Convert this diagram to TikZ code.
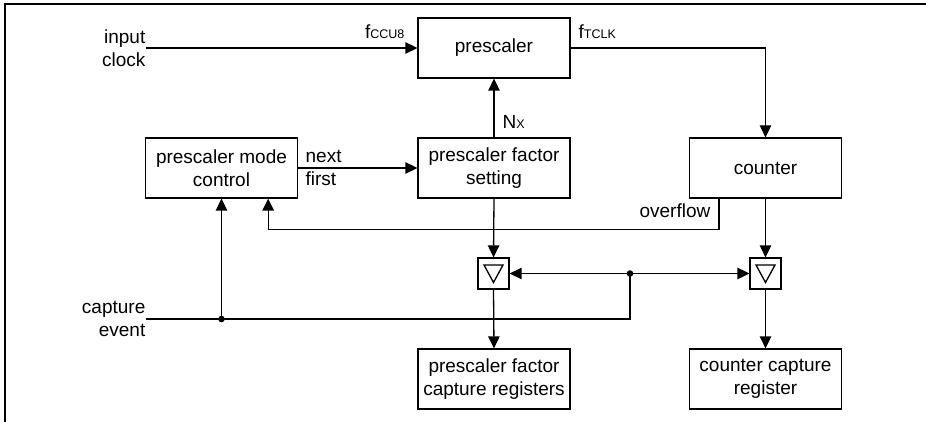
\documentclass[tikz,border=0pt]{standalone}
\usepackage{fontspec}
\setmainfont{Liberation Sans}
\usetikzlibrary{arrows.meta,calc}
\newcommand\subtxt[1]{{\fontsize{12.5}{12.5}\selectfont #1}}

\begin{document}
\begin{tikzpicture}[x=1pt,y=-1pt,line width=1.3pt,
    font=\fontsize{19}{22.7}\selectfont,
    blk/.style={draw,minimum width=152pt,minimum height=60pt,align=center,inner sep=0pt},
    capbox/.style={draw,minimum size=31pt,inner sep=0pt,
        path picture={\draw (path picture bounding box.center) ++(-9.5pt,8.5pt) -- ++(19pt,0pt) -- ++(-9.5pt,-17.5pt) -- cycle;}},
    lbl/.style={inner sep=0pt},
    arr/.style={-{Triangle[length=12pt,width=11.5pt]}}]
    \useasboundingbox (0,0) rectangle (926,422);
    % frame
    \draw[line width=1.7pt] (5,422)--(5,4)--(926,4);
    % blocks
    \node[blk] (presc) at (494,48) {prescaler};
    \node[blk] (modectl) at (221.5,168) {prescaler mode\\control};
    \node[blk] (factset) at (494,168) {prescaler factor\\setting};
    \node[blk] (counter) at (765.5,168) {counter};
    \node[capbox] (capL) at (493.5,273.5) {};
    \node[capbox] (capR) at (765.5,273.5) {};
    \node[blk] (pfcr) at (494,379) {prescaler factor\\capture registers};
    \node[blk] (ccr) at (765.5,379) {counter capture\\register};
    % inputs
    \node[lbl,anchor=east,align=right] (inclk) at (146,48) {input\\clock};
    \node[lbl,anchor=east,align=right] (capev) at (146,319) {capture\\event};
    % labels
    \node[lbl,anchor=base east] (fccu) at (405,39) {f\subtxt{CCU8}};
    \node[lbl,anchor=base west] (ftclk) at (578,39) {f\subtxt{TCLK}};
    \node[lbl,anchor=base west] (nx) at (502,129) {N\subtxt{X}};
    \node[lbl,anchor=west,align=left] (nxtfst) at (305,168) {next\\first};
    \node[lbl,anchor=base east] (ovfl) at (711,218) {overflow};
    % connectors
    \draw[arr] (inclk.east) -- (presc.west);
    \draw[arr] (presc.east) -| (counter.north);
    \draw[arr] (factset.north) -- (presc.south);
    \draw[arr] (modectl.east) -- (factset.west);
    \draw[arr] ([xshift=30pt]counter.south west) -- ++(0,31) -| ([xshift=-30pt]modectl.south east);
    \draw[arr] (factset.south) -- (capL.north);
    \draw[arr] (counter.south) -- (capR.north);
    \draw[arr] (capL.south) -- (pfcr.north);
    \draw[arr] (capR.south) -- (ccr.north);
    % capture event
    \coordinate (jA) at (modectl.south |- capev.east);
    \coordinate (jB) at (630,273.5);
    \draw (capev.east) -| (jB);
    \draw[arr] (jA) -- (modectl.south);
    \draw[arr] (jB) -- (capL.east);
    \draw[arr] (jB) -- (capR.west);
    \fill (jA) circle (3.3pt);
    \fill (jB) circle (3.3pt);
\end{tikzpicture}
\end{document}
